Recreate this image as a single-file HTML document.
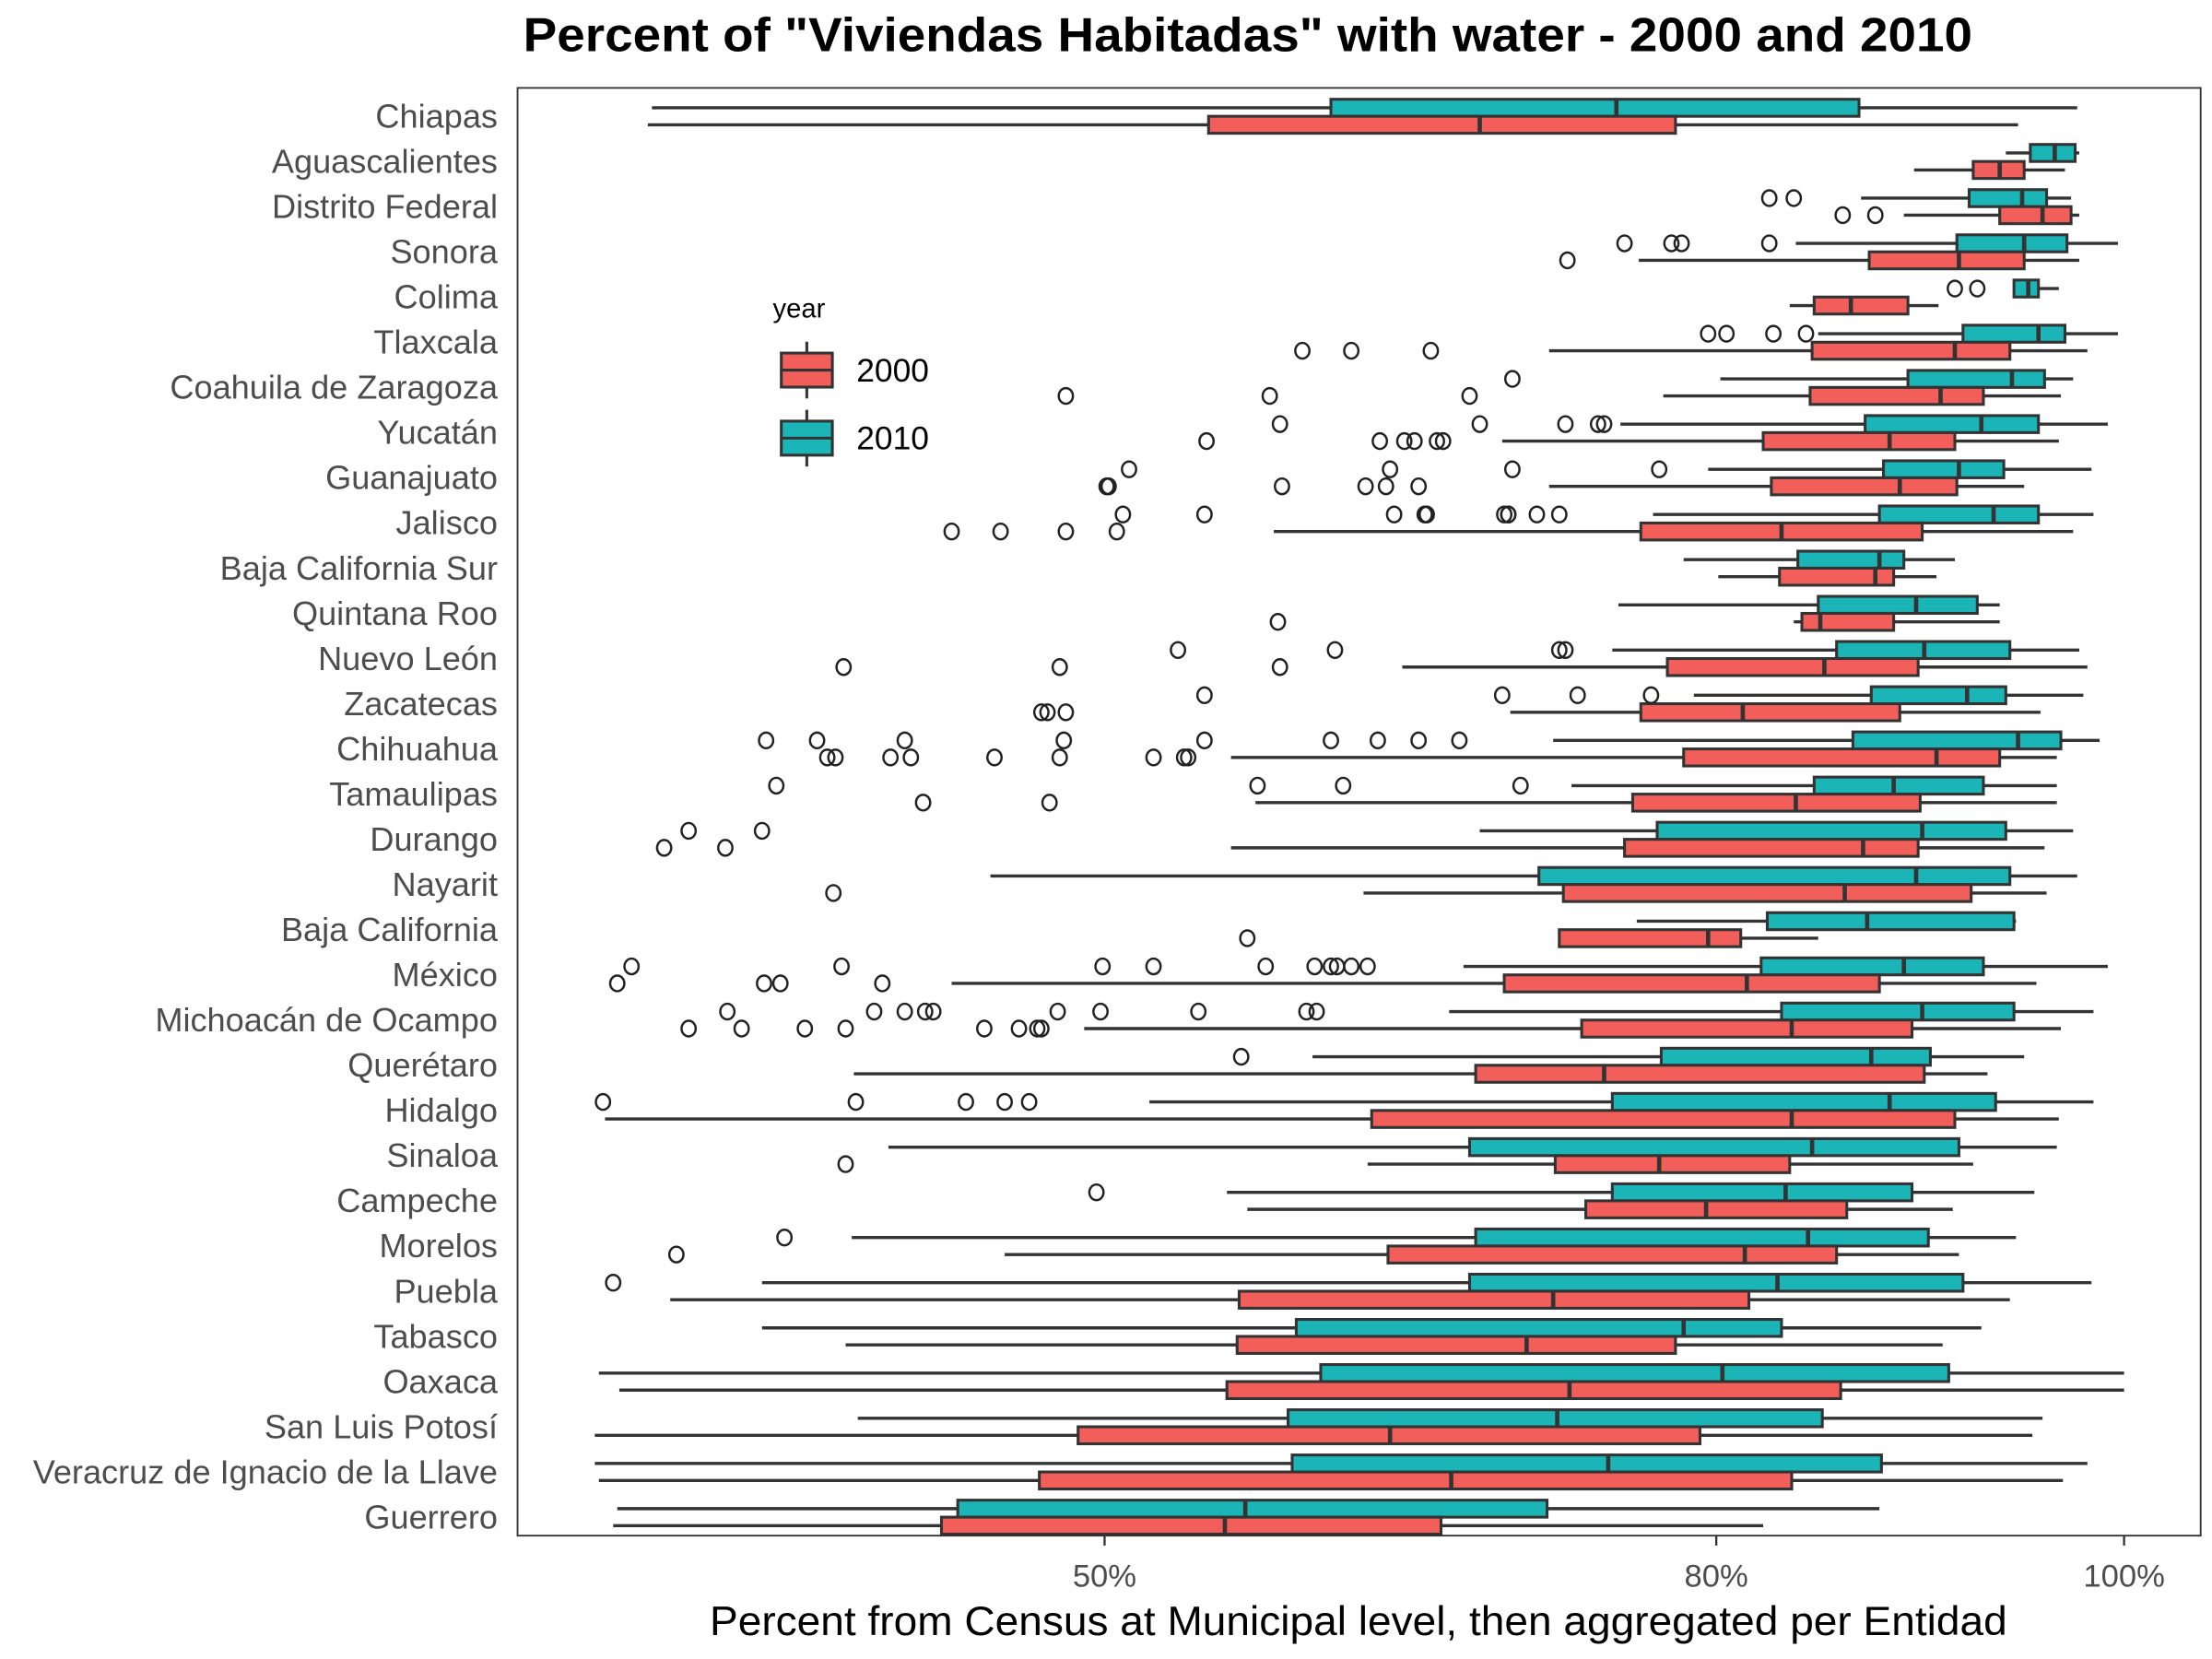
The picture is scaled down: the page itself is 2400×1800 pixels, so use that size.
<!DOCTYPE html>
<html><head><meta charset="utf-8">
<style>
html,body{margin:0;padding:0;background:#fff;}
svg{display:block;font-family:"Liberation Sans",Arial,sans-serif;}
</style></head>
<body>
<svg id="chart" width="2400" height="1800" viewBox="0 0 1560 1170" xmlns="http://www.w3.org/2000/svg">
<rect x="0" y="0" width="1560" height="1170" fill="#fff"/>
<text x="880" y="36" text-anchor="middle" font-size="34" font-weight="bold" fill="#000" textLength="1022" lengthAdjust="spacingAndGlyphs">Percent of "Viviendas Habitadas" with water - 2000 and 2010</text>
<g id="plot"></g>
<rect x="365" y="62" width="1187" height="1021" fill="none" stroke="#333" stroke-width="1.2"/>
<text x="958" y="1153" text-anchor="middle" font-size="29" fill="#000" textLength="915" lengthAdjust="spacingAndGlyphs">Percent from Census at Municipal level, then aggregated per Entidad</text>
<g>
<text x="545" y="224" font-size="19" fill="#000">year</text>
<g>
<line x1="569" y1="241" x2="569" y2="281" stroke="#333" stroke-width="2"/>
<rect x="551" y="249" width="36" height="24" fill="#F25F5A" stroke="#333" stroke-width="2"/>
<line x1="551" y1="261" x2="587" y2="261" stroke="#333" stroke-width="2"/>
<text x="604" y="269" font-size="23" fill="#000">2000</text>
</g>
<g>
<line x1="569" y1="289" x2="569" y2="329" stroke="#333" stroke-width="2"/>
<rect x="551" y="297" width="36" height="24" fill="#1BB5B8" stroke="#333" stroke-width="2"/>
<line x1="551" y1="309" x2="587" y2="309" stroke="#333" stroke-width="2"/>
<text x="604" y="317" font-size="23" fill="#000">2010</text>
</g>
</g>
</svg>
<script>
const states = ["Chiapas","Aguascalientes","Distrito Federal","Sonora","Colima","Tlaxcala","Coahuila de Zaragoza","Yucatán","Guanajuato","Jalisco","Baja California Sur","Quintana Roo","Nuevo León","Zacatecas","Chihuahua","Tamaulipas","Durango","Nayarit","Baja California","México","Michoacán de Ocampo","Querétaro","Hidalgo","Sinaloa","Campeche","Morelos","Puebla","Tabasco","Oaxaca","San Luis Potosí","Veracruz de Ignacio de la Llave","Guerrero"];
// [whiskerLow, q1, median, q3, whiskerHigh]
const stats2010 = [
[27.8,61.1,75.1,87.0,97.7],[94.2,95.4,96.6,97.6,97.8],[87.1,92.4,95.0,96.2,97.4],[83.9,91.8,95.1,97.2,99.7],
[94.6,94.6,95.3,95.8,96.8],[85.0,92.1,95.8,97.1,99.7],[80.2,89.4,94.5,96.1,97.5],[75.3,87.3,93.0,95.8,99.2],
[79.6,88.2,91.9,94.1,98.4],[76.9,88.0,93.6,95.8,98.5],[78.4,84.0,88.0,89.2,91.7],[75.2,85.0,89.8,92.8,93.9],
[74.9,85.9,90.2,94.4,97.8],[78.9,87.6,92.3,94.2,98.0],[72.0,86.7,94.8,96.9,98.8],[72.9,84.8,88.7,93.1,96.7],
[68.4,77.1,90.1,94.2,97.5],[44.4,71.3,89.8,94.4,97.7],[76.1,82.5,87.4,94.6,94.7],[67.6,82.2,89.2,93.1,99.2],
[66.9,83.2,90.1,94.6,98.5],[60.2,77.3,87.6,90.5,95.1],[52.2,74.9,88.5,93.7,98.5],[39.4,67.9,84.7,91.9,96.7],
[56.0,74.9,83.4,89.6,95.6],[37.6,68.2,84.5,90.4,94.7],[33.2,67.9,83.0,92.1,98.4],[33.2,59.4,78.4,83.2,93.0],
[25.2,60.6,80.3,91.4,100.0],[37.9,59.0,72.2,85.2,96.0],[25.0,59.2,74.7,88.1,98.2],[26.1,42.8,56.9,71.7,88.0]];
const stats2000 = [
[27.6,55.1,68.4,78.0,94.8],[89.7,92.6,93.9,95.1,97.1],[89.2,93.9,96.0,97.4,97.8],[76.2,87.5,91.9,95.1,97.8],
[83.6,84.8,86.6,89.4,90.9],[71.8,84.7,91.7,94.4,98.2],[77.4,84.6,91.0,93.1,96.9],[69.5,82.3,88.5,91.7,96.8],
[71.8,82.7,89.0,91.8,95.1],[58.3,76.3,83.2,90.1,97.5],[80.1,83.1,87.8,88.7,90.8],[83.8,84.2,85.1,88.7,93.9],
[64.6,77.6,85.3,89.9,98.2],[69.9,76.3,81.3,89.0,95.9],[56.2,78.4,90.8,93.9,96.7],[57.4,75.9,83.9,90.0,96.7],
[56.2,75.5,87.2,89.9,96.1],[62.7,72.5,86.3,92.5,96.2],[72.3,72.3,79.6,81.2,85.0],[42.5,69.6,81.5,88.0,95.7],
[49.0,73.4,83.7,89.6,96.9],[37.7,68.2,74.5,90.2,93.3],[25.5,63.1,83.7,91.7,96.8],[62.9,72.1,77.2,83.6,92.6],
[57.0,73.6,79.5,86.4,91.6],[45.1,63.9,81.4,85.9,91.9],[28.7,56.6,72.0,81.6,94.4],[37.3,56.5,70.7,78.0,91.1],
[26.2,56.0,72.8,86.1,100.0],[25.0,48.7,64.0,79.2,95.5],[25.2,46.8,67.0,83.7,97.0],[25.9,42.0,55.9,66.5,82.3]];
const outliers2010 = [[],[],[82.6,83.8],[75.5,77.8,78.3,82.6],[91.7,92.8],[79.6,80.5,82.8,84.4],[70.0],
[58.6,68.4,72.6,74.2,74.5],[51.2,64.0,70.0,77.2],[50.9,54.9,64.2,65.7,65.8,69.6,69.8,69.8,71.2,72.3],[],[],
[53.6,61.3,72.3,72.6],[54.9,69.5,73.2,76.8],[33.4,35.9,40.2,48.0,54.9,61.1,63.4,65.4,67.4],[33.9,57.5,61.7,70.4],
[29.6,33.2],[],[],[26.8,37.1,49.9,52.4,57.9,60.3,61.1,61.4,62.1,62.9],
[31.5,38.7,40.2,41.2,41.6,47.7,49.8,54.6,59.9,60.4],[56.7],[25.4,37.8,43.2,45.1,46.3],[],[49.6],[34.3],[25.9],[],[],[],[],[]];
const outliers2000 = [[],[],[86.2,87.8],[72.7],[],[59.7,62.1,66.0],[48.1,58.1,67.9],
[55.0,63.5,64.7,65.2,66.3,66.6],[50.1,50.2,58.7,62.8,63.8,65.4],[42.5,44.9,48.1,50.6],[],[58.5],
[37.2,47.8,58.6],[46.9,47.2,48.1],[36.4,36.8,39.5,40.5,44.6,47.8,52.4,53.9,54.1],[41.1,47.3],
[28.4,31.4],[36.7],[57.0],[26.1,33.3,34.1,39.1],[29.6,32.2,35.3,37.3,44.1,45.8,46.7,46.9],[],[],[37.3],[],[29.0],[],[],[],[],[],[]];
const xTicks = [50, 80, 100];
const xTickLabels = ["50%", "80%", "100%"];

const NS = "http://www.w3.org/2000/svg";
const plot = document.getElementById("plot");
const svg = document.getElementById("chart");
function xScale(p){ return 779 + (p - 50) * 14.38; }
function yScale(i){ return 82 + i * 31.87; }
function mk(tag, attrs, parent){
  const e = document.createElementNS(NS, tag);
  for (const k in attrs) e.setAttribute(k, attrs[k]);
  (parent || plot).appendChild(e);
  return e;
}
function drawBox(s, cy, fill, name){
  const g = mk("g", {});
  
  
  const h = 12;
  mk("line", {x1:xScale(s[0]), x2:xScale(s[4]), y1:cy, y2:cy, stroke:"#333", "stroke-width":2.2}, g);
  mk("rect", {x:xScale(s[1]), y:cy-h/2, width:Math.max(1,xScale(s[3])-xScale(s[1])), height:h, fill:fill, stroke:"#333", "stroke-width":2}, g);
  mk("line", {x1:xScale(s[2]), x2:xScale(s[2]), y1:cy-h/2, y2:cy+h/2, stroke:"#333", "stroke-width":3}, g);
}
function drawOut(arr, cy, name){
  arr.forEach(function(v){
    const c = mk("ellipse", {cx:xScale(v), cy:cy, rx:5, ry:5.5, fill:"none", stroke:"#222", "stroke-width":1.6});
    
    
  });
}
states.forEach(function(st, i){
  const cy = yScale(i);
  drawBox(stats2010[i], cy - 6, "#1BB5B8", "box-2010");
  drawBox(stats2000[i], cy + 6, "#F25F5A", "box-2000");
  drawOut(outliers2010[i], cy - 6, "outlier-2010");
  drawOut(outliers2000[i], cy + 6, "outlier-2000");
  const t = mk("text", {x:351, y:cy + 8, "text-anchor":"end", "font-size":23.5, fill:"#4d4d4d"}, svg);
  
  
  t.textContent = st;
});
xTicks.forEach(function(v, i){
  const x = xScale(v);
  const l = mk("line", {x1:x, x2:x, y1:1083, y2:1090, stroke:"#333", "stroke-width":1.5}, svg);
  
  
  const t = mk("text", {x:x, y:1119, "text-anchor":"middle", "font-size":22.5, fill:"#4d4d4d"}, svg);
  
  
  t.textContent = xTickLabels[i];
});
</script>
</body></html>
